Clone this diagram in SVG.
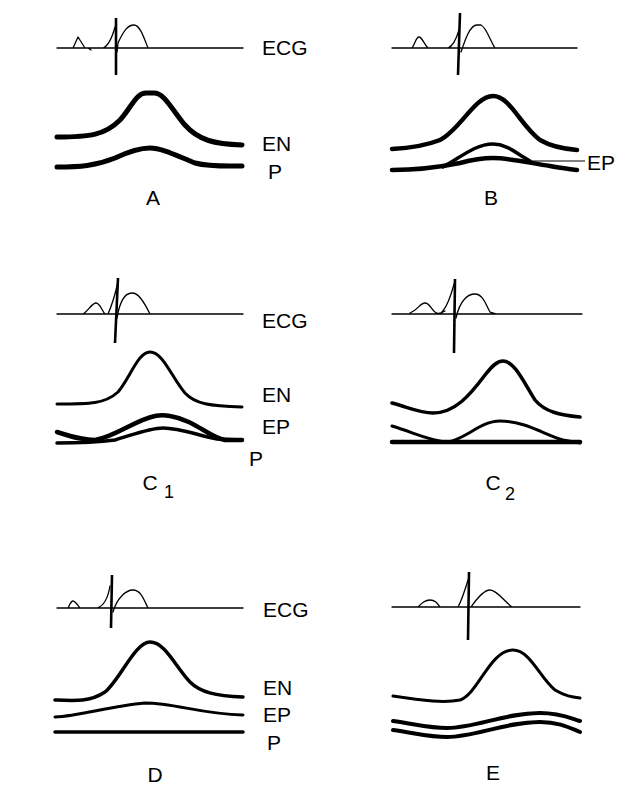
<svg xmlns="http://www.w3.org/2000/svg" width="644" height="800" viewBox="0 0 644 800">
<style>
.bg{fill:#fff}
.ecg{fill:none;stroke:#000;stroke-width:1.3;stroke-linejoin:round;stroke-linecap:round}
.spk{fill:none;stroke:#000;stroke-width:2.6;stroke-linecap:butt}
.tr{fill:none;stroke:#000;stroke-linecap:round;stroke-linejoin:round}
.lbl{font-family:"Liberation Sans",Arial,Helvetica,sans-serif;font-size:21px;fill:#000}
.ttl{font-family:"Liberation Sans",Arial,Helvetica,sans-serif;font-size:21px;fill:#000;text-anchor:middle}
.sub{font-family:"Liberation Sans",Arial,Helvetica,sans-serif;font-size:18px;fill:#000}
.lead{fill:none;stroke:#000;stroke-width:1}
</style>
<rect class="bg" x="0" y="0" width="644" height="800"/>

<g id="panelA">
<path class="ecg" d="M57,48 H243 M73,48 L78,37 L85,48 M88,48 L91,50 M103,48 C108,46 112,38 115,27 M117,52 L118,43 C124,30 128,25 134,25 C140,25 144,38 148,48"/>
<path class="spk" d="M116,18 L116,75"/>
<path class="tr" stroke-width="5" d="M57,137 C90,137 105,135 120,120 C131,108 136,93 146,93 L154,93 C164,93 171,108 184,124 C199,141 215,144 242,145"/>
<path class="tr" stroke-width="5" d="M57,167 C80,167 95,166 115,158 C130,151 140,148 150,148 C162,148 175,155 195,163 C210,167 230,166 242,166"/>
<text class="lbl" x="262" y="55">ECG</text>
<text class="lbl" x="262" y="151">EN</text>
<text class="lbl" x="268" y="179">P</text>
<text class="ttl" x="153" y="205">A</text>
</g>

<g id="panelB">
<path class="ecg" d="M392,48 H577 M412,48 C415,44 416,37 419,37 C422,37 424,44 428,48 M448,48 C453,46 456,40 459,30 M461,52 C465,40 470,25 477,25 L481,25 C486,27 490,40 495,48"/>
<path class="spk" d="M460,13 L458,75"/>
<path class="tr" stroke-width="4.5" d="M392,149 C410,148 425,146 440,140 C460,130 475,96 493,96 C510,96 520,125 540,140 C552,147 565,149 577,150"/>
<path class="tr" stroke-width="3.5" d="M443,167 C460,158 475,144 493,144 C508,144 518,155 530,161"/>
<path class="tr" stroke-width="4.5" d="M392,170 C420,170 440,167 460,163 C475,159 485,158 493,158 C510,158 530,163 550,166 C560,168 570,169 577,170"/>
<text class="lbl" x="587" y="170">EP</text>
<text class="ttl" x="491" y="205">B</text>
</g>

<g id="panelC1">
<path class="ecg" d="M57,314 H243 M83,314 C88,311 92,303 96,303 C100,303 102,311 105,314 M108,314 C112,305 115,295 118,282 M117,318 C120,300 126,293 132,293 C138,293 143,300 150,314"/>
<path class="spk" d="M118,278 L115,343"/>
<path class="tr" stroke-width="3" d="M57,404 C90,404 105,404 118,392 C130,378 138,352 150,352 C163,352 172,378 185,393 C195,404 210,406 242,407"/>
<path class="tr" stroke-width="4.5" d="M57,432 C70,436 80,440 95,440 C115,437 135,420 155,416 C160,415 165,415 170,416 C195,420 210,438 225,440 L242,440"/>
<path class="tr" stroke-width="3.5" d="M57,443 C80,443 100,442 115,440 C135,434 150,428 163,428 C180,428 200,436 217,439 L242,440"/>
<text class="lbl" x="262" y="328">ECG</text>
<text class="lbl" x="262" y="402">EN</text>
<text class="lbl" x="262" y="434">EP</text>
<text class="lbl" x="249" y="466">P</text>
<text class="ttl" x="150" y="490">C</text>
<text class="sub" x="164" y="498">1</text>
</g>

<g id="panelC2">
<path class="ecg" d="M392,314 H582 M410,313 C418,310 420,303 425,303 C430,303 431,310 436,313 C440,314 442,313 445,311 M440,314 C447,308 451,295 455,281 M456,318 C460,300 468,294 475,294 C483,294 486,305 490,312 L497,314"/>
<path class="spk" d="M455,279 L454,353"/>
<path class="tr" stroke-width="3.5" d="M392,403 C410,408 420,413 433,413 C455,413 470,395 485,375 C492,366 497,361 503,361 C515,361 525,385 535,400 C545,412 560,415 580,417"/>
<path class="tr" stroke-width="3" d="M392,426 C415,433 430,441 447,442 C465,440 480,421 500,421 C525,421 545,435 563,440 L580,443"/>
<path class="tr" stroke-width="4.5" d="M392,442 H580"/>
<text class="ttl" x="493" y="490">C</text>
<text class="sub" x="505" y="500">2</text>
</g>

<g id="panelD">
<path class="ecg" d="M57,608 H243 M68,608 C70,604 71,601 73,601 C75,601 77,604 80,608 M97,608 C104,606 108,598 110,586 M113,612 C117,598 126,590 133,590 C141,590 144,600 148,608"/>
<path class="spk" d="M112,575 L111,628"/>
<path class="tr" stroke-width="3.5" d="M55,700 C75,701 90,702 105,692 C120,680 135,642 150,642 C165,642 175,666 190,682 C200,692 215,696 243,697"/>
<path class="tr" stroke-width="3" d="M55,717 C80,716 110,706 145,703 C175,703 200,714 243,715"/>
<path class="tr" stroke-width="3.5" d="M55,732 H243"/>
<text class="lbl" x="263" y="617">ECG</text>
<text class="lbl" x="263" y="695">EN</text>
<text class="lbl" x="263" y="722">EP</text>
<text class="lbl" x="267" y="750">P</text>
<text class="ttl" x="155" y="782">D</text>
</g>

<g id="panelE">
<path class="ecg" d="M392,607 H580 M418,607 C422,603 425,600 430,600 C435,600 437,603 440,607 M458,607 C462,600 465,590 468,580 M471,607 C478,597 484,590 490,590 C497,590 505,602 512,607"/>
<path class="spk" d="M469,572 L468,640"/>
<path class="tr" stroke-width="3" d="M393,696 C425,701 445,703 460,700 C478,694 490,650 513,650 C530,650 540,678 555,690 C565,696 572,697 580,698"/>
<path class="tr" stroke-width="4" d="M393,721 C415,724 430,728 447,728 C475,728 505,713 540,713 C560,713 570,718 580,721"/>
<path class="tr" stroke-width="4" d="M393,730 C415,733 430,737 447,737 C475,737 505,722 540,722 C560,722 570,728 580,732"/>
<text class="ttl" x="493" y="780">E</text>
</g>

<g id="connectors">
<path class="lead" d="M528,161 L585,161"/>
</g>
</svg>
